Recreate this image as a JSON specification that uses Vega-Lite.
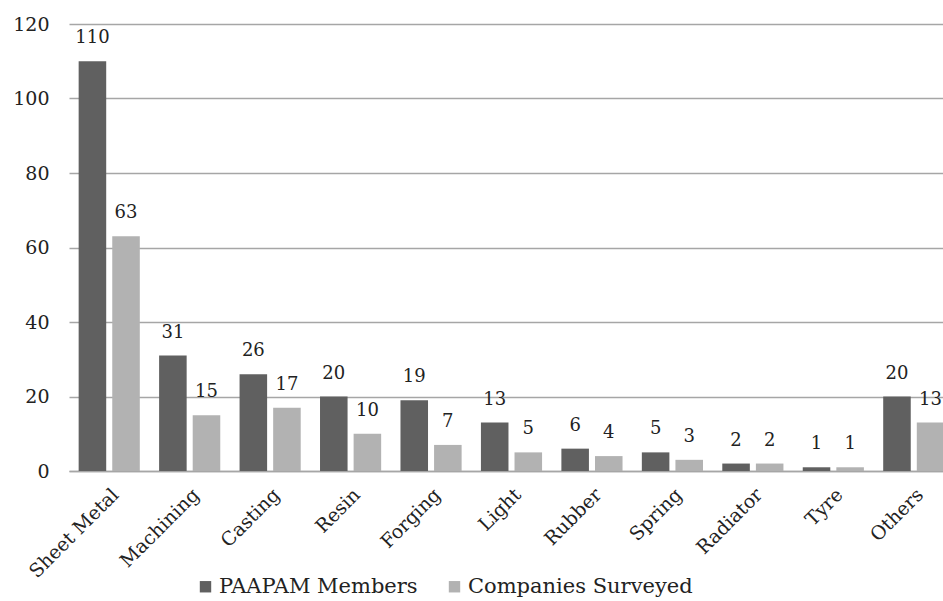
{
  "$schema": "https://vega.github.io/schema/vega-lite/v6.json",
  "width": 885,
  "height": 447,
  "padding": {"left": 12, "top": 15, "right": 0, "bottom": 0},
  "background": "white",
  "config": {
    "font": "DejaVu Serif",
    "view": {"stroke": null},
    "axis": {"labelFont": "DejaVu Serif", "labelColor": "#222222"}
  },
  "data": {
    "values": [
      {"category": "Sheet Metal", "series": "PAAPAM Members", "value": 110},
      {"category": "Sheet Metal", "series": "Companies Surveyed", "value": 63},
      {"category": "Machining", "series": "PAAPAM Members", "value": 31},
      {"category": "Machining", "series": "Companies Surveyed", "value": 15},
      {"category": "Casting", "series": "PAAPAM Members", "value": 26},
      {"category": "Casting", "series": "Companies Surveyed", "value": 17},
      {"category": "Resin", "series": "PAAPAM Members", "value": 20},
      {"category": "Resin", "series": "Companies Surveyed", "value": 10},
      {"category": "Forging", "series": "PAAPAM Members", "value": 19},
      {"category": "Forging", "series": "Companies Surveyed", "value": 7},
      {"category": "Light", "series": "PAAPAM Members", "value": 13},
      {"category": "Light", "series": "Companies Surveyed", "value": 5},
      {"category": "Rubber", "series": "PAAPAM Members", "value": 6},
      {"category": "Rubber", "series": "Companies Surveyed", "value": 4},
      {"category": "Spring", "series": "PAAPAM Members", "value": 5},
      {"category": "Spring", "series": "Companies Surveyed", "value": 3},
      {"category": "Radiator", "series": "PAAPAM Members", "value": 2},
      {"category": "Radiator", "series": "Companies Surveyed", "value": 2},
      {"category": "Tyre", "series": "PAAPAM Members", "value": 1},
      {"category": "Tyre", "series": "Companies Surveyed", "value": 1},
      {"category": "Others", "series": "PAAPAM Members", "value": 20},
      {"category": "Others", "series": "Companies Surveyed", "value": 13}
    ]
  },
  "encoding": {
    "x": {
      "field": "category",
      "type": "nominal",
      "sort": null,
      "scale": {"paddingInner": 0.24, "paddingOuter": 0.12},
      "axis": {
        "title": null,
        "labelAngle": -45,
        "labelFontSize": 19,
        "labelPadding": 14,
        "ticks": false,
        "domainColor": "#a6a6a6",
        "domainWidth": 1.5
      }
    },
    "xOffset": {
      "field": "series",
      "type": "nominal",
      "sort": ["PAAPAM Members", "Companies Surveyed"],
      "scale": {"paddingInner": 0.18}
    },
    "y": {
      "field": "value",
      "type": "quantitative",
      "scale": {"domain": [0, 120]},
      "axis": {
        "title": null,
        "values": [0, 20, 40, 60, 80, 100, 120],
        "labelFontSize": 19,
        "labelPadding": 20,
        "ticks": false,
        "domain": false,
        "gridColor": "#a6a6a6",
        "gridWidth": 1.5
      }
    }
  },
  "layer": [
    {
      "mark": {"type": "bar"},
      "encoding": {
        "color": {
          "field": "series",
          "type": "nominal",
          "sort": ["PAAPAM Members", "Companies Surveyed"],
          "scale": {"domain": ["PAAPAM Members", "Companies Surveyed"], "range": ["#606060", "#b2b2b2"]},
          "legend": {
            "title": null,
            "orient": "none",
            "legendX": 126,
            "legendY": 552,
            "direction": "horizontal",
            "symbolType": "square",
            "symbolSize": 130,
            "symbolStrokeWidth": 0,
            "labelFontSize": 21,
            "labelOffset": 3,
            "labelFont": "DejaVu Serif",
            "labelColor": "#222222",
            "labelLimit": 300,
            "columnPadding": 26
          }
        }
      }
    },
    {
      "mark": {"type": "text", "baseline": "bottom", "dy": -14, "fontSize": 18, "color": "#222222"},
      "encoding": {"text": {"field": "value", "type": "quantitative"}}
    }
  ]
}
